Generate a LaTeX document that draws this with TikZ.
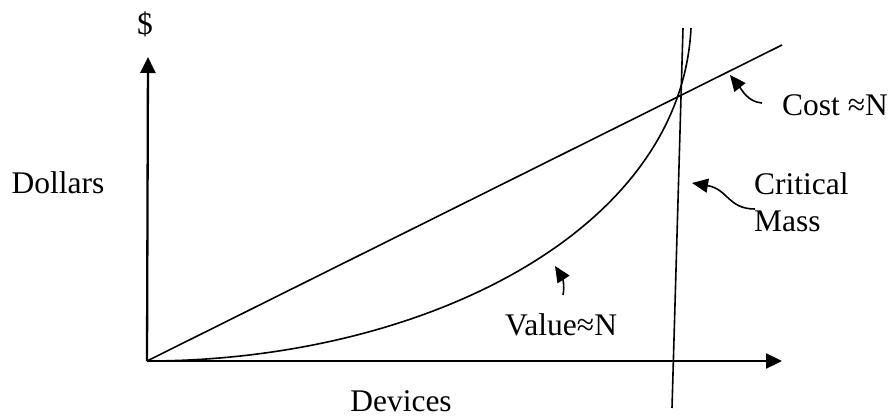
\documentclass[tikz,border=0pt]{standalone}
\usepackage{fontspec}
\setmainfont{Liberation Serif}
\usetikzlibrary{arrows.meta}
\newcommand{\txtsize}{\fontsize{31.5}{37}\selectfont}
\newcommand{\lbl}[4]{\node[txt,#1] (#2) at (#3) {#4};}

\begin{document}
\begin{tikzpicture}[x=1pt,y=-1pt,
  txt/.style={font=\txtsize, inner sep=0pt},
  axis/.style={line width=2.3pt,-{Triangle[length=16pt,width=15pt]}},
  curve/.style={line width=1.6pt},
  pointer/.style={line width=1.6pt,-{Triangle[length=16pt,width=14pt]}}]
    \useasboundingbox (0,0) rectangle (891,418);
    % axes
    \coordinate (O) at (147,361);
    \coordinate (ytop) at (148,57);
    \coordinate (xend) at (782,361);
    \draw[axis] (O) -- (ytop);
    \draw[axis] (O) -- (xend);
    % cost, critical mass, value
    \coordinate (costend) at (782,45);
    \coordinate (masstop) at (683,28);
    \coordinate (massbot) at (672,408);
    \coordinate (valueend) at (691,28);
    \draw[curve] (O) -- (costend);
    \draw[curve] (masstop) -- (massbot);
    \draw[curve] (O) .. controls (420,361) and (681,233) .. (valueend);
    % labels
    \lbl{}{dollar}{145,24}{\$}
    \lbl{}{dollars}{58,183}{Dollars}
    \lbl{}{devices}{401,401}{Devices}
    \lbl{anchor=west}{cost}{782,105}{Cost ≈N}
    \lbl{anchor=north west,align=left}{mass}{754,172}{Critical\\Mass}
    \lbl{anchor=west}{value}{505,325}{Value≈N}
    % pointers
    \coordinate (costtail) at (762,103);
    \coordinate (costtip) at (730,75);
    \coordinate (masstail) at (755,209);
    \coordinate (masstip) at (692,183);
    \coordinate (valuetail) at (563,295);
    \coordinate (valuetip) at (555,266);
    \draw[pointer] (costtail) .. controls (748,102) and (742,90) .. (costtip);
    \draw[pointer] (masstail) .. controls (728,209) and (728,189) .. (masstip);
    \draw[pointer] (valuetail) .. controls (565,285) and (562,277) .. (valuetip);
\end{tikzpicture}
\end{document}
